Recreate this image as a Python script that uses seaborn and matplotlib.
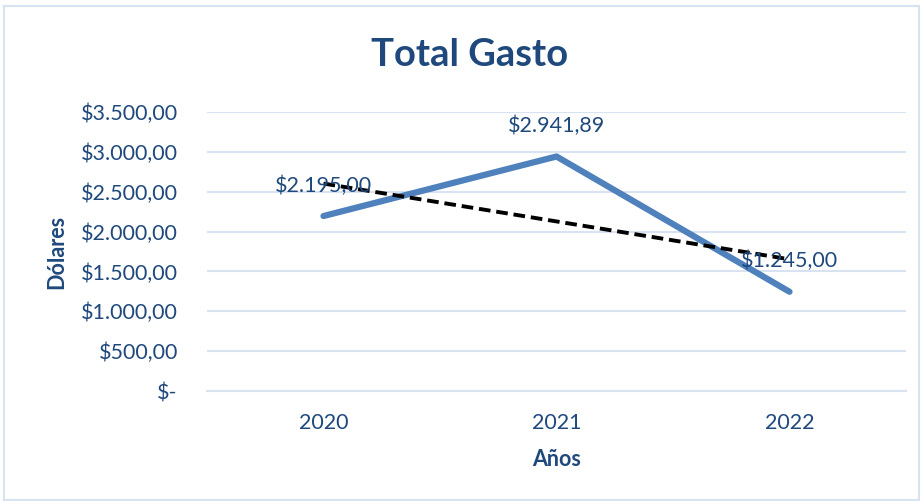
import numpy as np
import pandas as pd
import matplotlib
matplotlib.use("Agg")
import matplotlib.pyplot as plt
import seaborn as sns
from matplotlib.patches import Rectangle
from matplotlib.ticker import FuncFormatter, FixedLocator

years = ["2020", "2021", "2022"]
gasto = [2195.00, 2941.89, 1245.00]
y_ticks = [0, 500, 1000, 1500, 2000, 2500, 3000, 3500]

def fmt_money(v):
    if v == 0:
        return "$-"
    s = f"{v:,.2f}"
    s = s.replace(",", "X").replace(".", ",").replace("X", ".")
    return "$" + s

df = pd.DataFrame({"x": np.arange(len(years)), "Año": years, "Gasto": gasto})

sns.set_style("white")
plt.rcParams['font.family'] = ['Lato', 'DejaVu Sans']

TXT = "#1F497D"
LINE = "#4F81BD"
GRID = "#D9E2F1"
FS = 15.5

fig = plt.figure(figsize=(9.23, 5.01), dpi=100)
ax = fig.add_axes([207/923, 1-391/501, (906-207)/923, (391-112)/501])

sns.lineplot(data=df, x="x", y="Gasto", ax=ax, color=LINE, linewidth=4.5,
             solid_capstyle="round", zorder=3)

# linear trendline
coef = np.polyfit(df["x"], df["Gasto"], 1)
trend = np.polyval(coef, df["x"])
ax.plot(df["x"], trend, color="black", linestyle=(0, (3, 1.5)), linewidth=2.8, zorder=4)

for xi, v in zip(df["x"], gasto):
    ax.annotate(fmt_money(v), (xi, v), xytext=(0, 22), textcoords="offset points",
                ha="center", va="center", fontsize=FS, color=TXT, zorder=5)

ax.set_xlim(-0.5, 2.5)
ax.set_ylim(0, 3500)
ax.yaxis.set_major_locator(FixedLocator(y_ticks))
ax.yaxis.set_major_formatter(FuncFormatter(lambda v, p: fmt_money(v)))
ax.set_xticks(df["x"])
ax.set_xticklabels(years)
ax.set_xticks([-0.5, 0.5, 1.5, 2.5], minor=True)
ax.tick_params(axis="x", which="major", length=0, pad=16, labelsize=FS, labelcolor=TXT)
ax.tick_params(axis="x", which="minor", length=6, width=1.5, color=GRID)
ax.tick_params(axis="y", length=0, pad=21, labelsize=FS, labelcolor=TXT)
for lab in ax.get_yticklabels():
    lab.set_horizontalalignment("right")

ax.grid(axis="y", color=GRID, linewidth=1.5)
ax.set_axisbelow(True)
for s in ["top", "right", "left"]:
    ax.spines[s].set_visible(False)
ax.spines["bottom"].set_color(GRID)
ax.spines["bottom"].set_linewidth(1.5)

ax.set_xlabel("Años", fontsize=FS, fontweight="bold", color=TXT, labelpad=11)
ax.set_ylabel("Dólares", fontsize=FS, fontweight="bold", color=TXT, labelpad=10)

fig.text(470/923, 1-55/501, "Total Gasto", ha="center", va="center",
         fontsize=27.5, fontweight="bold", color=TXT)

fig.patches.append(Rectangle((4/923, 1/501), 915/923, 494/501, transform=fig.transFigure,
                             fill=False, edgecolor="#D6E3F3", linewidth=1.5))

fig.savefig("out.png", dpi=100)
